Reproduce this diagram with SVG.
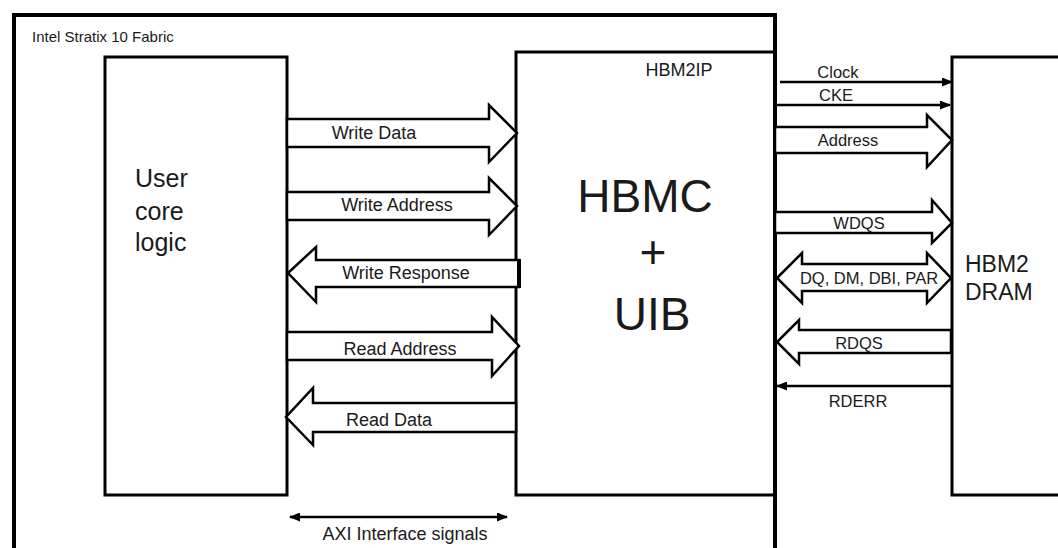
<svg xmlns="http://www.w3.org/2000/svg" width="1058" height="548" viewBox="0 0 1058 548">
<style>
.box{fill:none;stroke:#000;stroke-width:3}
.blk{fill:#fff;stroke:#000;stroke-width:2.5;stroke-linejoin:miter}
.ln{fill:none;stroke:#000;stroke-width:2.5}
text{font-family:"Liberation Sans",Arial,sans-serif;fill:#1a1a1a}
.lbl{font-size:18px;text-anchor:middle}
.rl{font-size:16.5px;text-anchor:middle}
</style>
<defs>
<marker id="ah" markerUnits="userSpaceOnUse" markerWidth="11" markerHeight="9" refX="10" refY="4.5" orient="auto-start-reverse" viewBox="0 0 11 9">
<path d="M0,0 L11,4.5 L0,9 z" fill="#000"/>
</marker>
</defs>
<rect width="1058" height="548" fill="#fff"/>

<g id="fabric">
<path d="M14,560 L14,15 L775,15 L775,560" fill="none" stroke="#000" stroke-width="4"/>
<text x="32" y="42" font-size="15">Intel Stratix 10 Fabric</text>
</g>

<g id="user-core-logic">
<rect class="box" x="105" y="57" width="182" height="438"/>
<text x="135" y="187" font-size="25">User</text>
<text x="135" y="220" font-size="25">core</text>
<text x="135" y="251" font-size="25">logic</text>
</g>

<g id="hbm2ip">
<path class="box" d="M775,52 L516,52 L516,495 L775,495"/>
<text x="679" y="76" font-size="18" text-anchor="middle">HBM2IP</text>
<text x="645" y="212" font-size="46" text-anchor="middle">HBMC</text>
<text x="653" y="268" font-size="46" text-anchor="middle">+</text>
<text x="652" y="330" font-size="46" text-anchor="middle">UIB</text>
</g>

<g id="hbm2-dram">
<path class="box" d="M1062,57 L952,57 L952,495 L1062,495"/>
<text x="965" y="272" font-size="23">HBM2</text>
<text x="965" y="300" font-size="23">DRAM</text>
</g>

<g id="connectors">
<polygon class="blk" points="287,119 489,119 489,105 517,133 489,162 489,147 287,147"/>
<polygon class="blk" points="287,192 489,192 489,178 517,206 489,235 489,220 287,220"/>
<polygon class="blk" points="519,260 316,260 316,247 288,273 316,302 316,287 519,287"/>
<line x1="519" y1="259" x2="519" y2="288" stroke="#000" stroke-width="4"/>
<polygon class="blk" points="287,332 492,332 492,317 519,346 492,376 492,360 287,360"/>
<polygon class="blk" points="516,403 313,403 313,388 286,417 313,445 313,432 516,432"/>

<line class="ln" x1="780" y1="82" x2="952" y2="82" marker-end="url(#ah)"/>
<line class="ln" x1="775" y1="105" x2="950" y2="105" marker-end="url(#ah)"/>
<polygon class="blk" points="775,127 927,127 927,115 952,140 927,167 927,153 775,153"/>
<polygon class="blk" points="775,212 932,212 932,200 952,223 932,243 932,233 775,233"/>
<polygon class="blk" points="777,278 802,253 802,264 927,264 927,253 951,278 927,303 927,291 802,291 802,303"/>
<polygon class="blk" points="951,330 799,330 799,320 777,342 799,364 799,353 951,353"/>
<line class="ln" x1="951" y1="386" x2="777" y2="386" marker-end="url(#ah)"/>

<line class="ln" x1="290" y1="517" x2="507" y2="517" marker-start="url(#ah)" marker-end="url(#ah)"/>
</g>

<g id="labels">
<text class="lbl" x="374" y="139">Write Data</text>
<text class="lbl" x="397" y="211">Write Address</text>
<text class="lbl" x="406" y="279">Write Response</text>
<text class="lbl" x="400" y="355">Read Address</text>
<text class="lbl" x="389" y="426">Read Data</text>
<text class="rl" x="838" y="78">Clock</text>
<text class="rl" x="836" y="101">CKE</text>
<text class="rl" x="848" y="146">Address</text>
<text class="rl" x="859" y="229">WDQS</text>
<text class="rl" x="869" y="284">DQ, DM, DBI, PAR</text>
<text class="rl" x="859" y="349">RDQS</text>
<text class="rl" x="858" y="407">RDERR</text>
<text class="lbl" x="405" y="540">AXI Interface signals</text>
</g>
</svg>
